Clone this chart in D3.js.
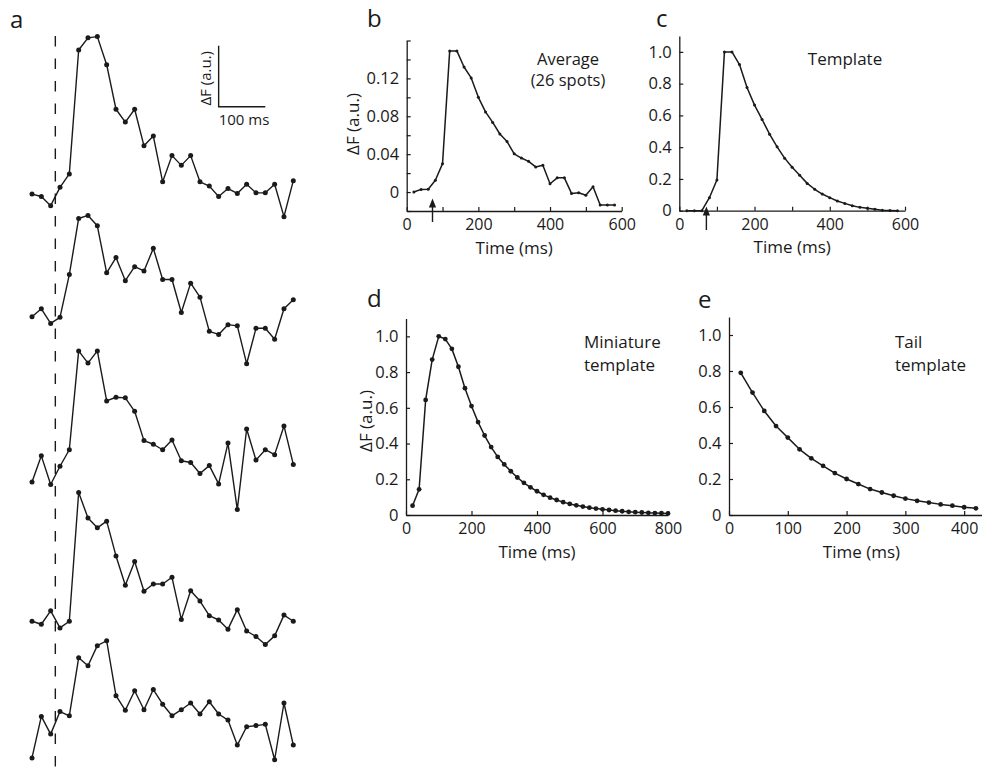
<!DOCTYPE html>
<html><head><meta charset="utf-8">
<script src="https://cdn.jsdelivr.net/npm/d3@7"></script>
<style>
body{margin:0;background:#fff}
svg{display:block;background:#fff}
text{font-family:"Open Sans",sans-serif;fill:#1a1a1a}
</style>
</head><body>
<svg id="chart" width="982" height="775"></svg>
<script>
// ---------- Panel a: five single-spot traces (ΔF, a.u.; scale bar = 1 a.u.) ----------
const timeA = [0,20,40,60,80,100,120,140,160,180,200,220,240,260,280,300,320,340,360,380,400,420,440,460,480,500,520,540,560];
const traceA1 = [0.03,-0.01,-0.16,0.14,0.36,2.39,2.59,2.61,2.15,1.42,1.21,1.42,0.82,0.98,0.23,0.66,0.50,0.66,0.23,0.16,-0.01,0.12,0.04,0.19,0.05,0.05,0.19,-0.34,0.25];
const traceA2 = [0.00,0.13,-0.11,-0.01,0.69,1.61,1.66,1.49,0.72,0.97,0.59,0.82,0.75,1.12,0.61,0.61,0.07,0.55,0.32,-0.24,-0.29,-0.13,-0.15,-0.77,-0.19,-0.19,-0.37,0.13,0.28];
const traceA3 = [-0.16,0.27,-0.20,0.10,0.37,1.99,1.79,1.99,1.17,1.23,1.22,1.00,0.52,0.46,0.37,0.53,0.19,0.16,-0.02,0.11,-0.19,0.48,-0.61,0.71,0.20,0.37,0.29,0.76,0.13];
const traceA4 = [0.00,-0.05,0.17,-0.11,0.00,2.11,1.69,1.53,1.64,1.07,0.59,0.98,0.49,0.61,0.61,0.72,0.03,0.50,0.33,0.09,0.02,-0.13,0.19,-0.16,-0.25,-0.38,-0.24,0.10,0.00];
const traceA5 = [-0.46,0.22,-0.07,0.30,0.23,1.18,1.05,1.38,1.46,0.56,0.32,0.64,0.33,0.66,0.42,0.23,0.33,0.44,0.26,0.46,0.26,0.16,-0.25,0.05,0.07,0.09,-0.49,0.44,-0.25];
const traceOffsets = [9.49,7.51,4.96,2.52,0.74];
const stimulusTime = 50;
const scaleBarTime = [400,500];
const scaleBarValue = [10.95,11.95];

// ---------- Panel b: average of 26 spots ----------
const timeB = [20,40,60,80,100,120,140,160,180,200,220,240,260,280,300,320,340,360,380,400,420,440,460,480,500,520,540,560,580];
const avgB = [0,0.0028,0.003,0.0125,0.030,0.149,0.149,0.132,0.1205,0.100,0.0846,0.0735,0.0613,0.0533,0.0404,0.0359,0.0324,0.0265,0.0282,0.0088,0.015,0.015,-0.0014,-0.0007,-0.0034,0.0056,-0.0136,-0.0136,-0.0136];
const xTicksB = [0,100,200,300,400,500,600];
const xLabelsB = [0,200,400,600];
const yTicksB = [-0.02,0,0.02,0.04,0.06,0.08,0.10,0.12,0.14,0.16];
const yLabelsB = [0,0.04,0.08,0.12];

// ---------- Panel c: template ----------
const timeC = [20,40,60,80,100,120,140,160,180,200,220,240,260,280,300,320,340,360,380,400,420,440,460,480,500,520,540,560,580];
const templateC = [0,0,0,0.082,0.193,1.0,1.0,0.92,0.776,0.665,0.575,0.482,0.402,0.331,0.273,0.223,0.172,0.135,0.105,0.082,0.061,0.046,0.031,0.021,0.015,0.009,0.003,0.001,0];
const xTicksC = [0,100,200,300,400,500,600];
const xLabelsC = [0,200,400,600];
const yTicksC = [0,0.2,0.4,0.6,0.8,1.0];
const stimulusArrowTime = 72;

// ---------- Panel d: miniature template ----------
const timeD = [20,40,60,80,100,120,140,160,180,200,220,240,260,280,300,320,340,360,380,400,420,440,460,480,500,520,540,560,580,600,620,640,660,680,700,720,740,760,780,800];
const miniD = [0.052,0.144,0.644,0.87,1.0,0.985,0.93,0.83,0.71,0.61,0.52,0.445,0.38,0.325,0.283,0.245,0.21,0.18,0.155,0.133,0.113,0.097,0.084,0.072,0.062,0.054,0.047,0.041,0.036,0.032,0.028,0.024,0.021,0.018,0.016,0.014,0.012,0.011,0.010,0.009];
const xTicksD = [0,200,400,600,800];

// ---------- Panel e: tail template ----------
const timeE = [20,40,60,80,100,120,140,160,180,200,220,240,260,280,300,320,340,360,380,400,420];
const tailE = [0.79,0.68,0.578,0.494,0.43,0.365,0.315,0.273,0.233,0.2,0.172,0.144,0.125,0.107,0.091,0.079,0.069,0.059,0.052,0.043,0.037];
const xTicksE = [0,100,200,300,400];
const yTicksDE = [0,0.2,0.4,0.6,0.8,1.0];

const ink = "#1a1a1a";
const svg = d3.select("#chart");

function styleAxis(sel, size){
  sel.attr("font-family", '"Open Sans",sans-serif').attr("font-size", size);
  sel.selectAll("path.domain").attr("stroke", ink).attr("stroke-width", 1.3);
  sel.selectAll(".tick line").attr("stroke", ink).attr("stroke-width", 1.2);
  sel.selectAll(".tick text").attr("fill", ink);
}

function panel(o){
  const x = d3.scaleLinear().domain(o.xDomain).range(o.xRange);
  const y = d3.scaleLinear().domain(o.yDomain).range(o.yRange);
  const g = svg.append("g");
  const has = (arr, d) => arr.some(l => Math.abs(l - d) < 1e-9);
  const xa = d3.axisBottom(x).tickValues(o.xTicks).tickSizeInner(-4).tickSizeOuter(0).tickPadding(8)
    .tickFormat(d => has(o.xLabels, d) ? String(d) : "");
  g.append("g").attr("transform", `translate(0,${o.yRange[0]})`).call(xa).call(styleAxis, 16);
  const ya = d3.axisLeft(y).tickValues(o.yTicks).tickSizeInner(-4).tickSizeOuter(0).tickPadding(7.5)
    .tickFormat(d => has(o.yLabels, d) ? (Math.abs(d) < 1e-9 ? "0" : o.yFmt(d)) : "");
  g.append("g").attr("transform", `translate(${o.xRange[0]},0)`).call(ya).call(styleAxis, 16.5);
  const line = d3.line().x((d,i) => x(o.t[i])).y(d => y(d));
  g.append("path").datum(o.v).attr("d", line).attr("fill","none").attr("stroke", ink).attr("stroke-width", o.lw).attr("stroke-linejoin","round");
  g.selectAll("circle").data(o.v).join("circle").attr("cx",(d,i)=>x(o.t[i])).attr("cy",d=>y(d)).attr("r",o.r).attr("fill",ink);
  // x label
  g.append("text").attr("x", (o.xRange[0]+o.xRange[1])/2 + (o.xLabelShift||0)).attr("y", o.yRange[0] + 42.5)
    .attr("text-anchor","middle").attr("font-size",17).text("Time (ms)");
  if (o.yLabelPos){
    g.append("text").attr("transform", `translate(${o.yLabelPos[0]},${o.yLabelPos[1]}) rotate(-90)`)
      .attr("text-anchor","middle").attr("font-size",17).text("\u0394F (a.u.)");
  }
  return {x, y, g};
}

function arrow(g, xp, tipY){
  const p = d3.path();
  p.moveTo(xp, tipY); p.lineTo(xp-3.6, tipY+9); p.lineTo(xp+3.6, tipY+9); p.closePath();
  g.append("path").attr("d", p.toString()).attr("fill", ink);
  g.append("line").attr("x1",xp).attr("x2",xp).attr("y1",tipY+8).attr("y2",tipY+23.5).attr("stroke",ink).attr("stroke-width",1.4);
}

// ---------- draw panel a ----------
const xA = d3.scaleLinear().domain([0,560]).range([32,293.3]);
const yA = d3.scaleLinear().domain([0,12.7]).range([775,0]);
const gA = svg.append("g");
gA.append("line").attr("x1",xA(stimulusTime)).attr("x2",xA(stimulusTime)).attr("y1",36).attr("y2",775)
  .attr("stroke",ink).attr("stroke-width",1.4).attr("stroke-dasharray","10.5,12");
[traceA1,traceA2,traceA3,traceA4,traceA5].forEach((tr,k) => {
  const off = traceOffsets[k];
  const ln = d3.line().x((d,i)=>xA(timeA[i])).y(d=>yA(d+off));
  gA.append("path").datum(tr).attr("d",ln).attr("fill","none").attr("stroke",ink).attr("stroke-width",1.4).attr("stroke-linejoin","round");
  gA.append("g").selectAll("circle").data(tr).join("circle")
    .attr("cx",(d,i)=>xA(timeA[i])).attr("cy",d=>yA(d+off)).attr("r",2.5).attr("fill",ink);
});
// scale bar
gA.append("path").attr("d", `M${xA(scaleBarTime[0])},${yA(scaleBarValue[1])}V${yA(scaleBarValue[0])}H${xA(scaleBarTime[1])}`)
  .attr("fill","none").attr("stroke",ink).attr("stroke-width",1.4);
gA.append("text").attr("x", xA(scaleBarTime[0])).attr("y", yA(scaleBarValue[0]) + 18).attr("font-size",15).text("100 ms");
gA.append("text").attr("transform", `translate(${xA(scaleBarTime[0]) - 8},${(yA(scaleBarValue[0])+yA(scaleBarValue[1]))/2 + 2}) rotate(-90)`)
  .attr("text-anchor","middle").attr("font-size",15).text("\u0394F (a.u.)");

// ---------- panel b ----------
const pb = panel({xDomain:[0,600], xRange:[406.7,621.7], yDomain:[-0.02,0.16], yRange:[211,40.5],
  xTicks:xTicksB, xLabels:xLabelsB, yTicks:yTicksB, yLabels:yLabelsB, yFmt:d3.format(".2f"),
  t:timeB, v:avgB, r:1.5, lw:1.5, yLabelPos:[359,124]});
arrow(pb.g, pb.x(stimulusArrowTime), 198.5);
pb.g.append("text").attr("x",568).attr("y",64.5).attr("text-anchor","middle").attr("font-size",16.5).text("Average");
pb.g.append("text").attr("x",568).attr("y",86).attr("text-anchor","middle").attr("font-size",16.5).text("(26 spots)");

// ---------- panel c ----------
const pc = panel({xDomain:[0,600], xRange:[679.3,905], yDomain:[0,1.1], yRange:[210.7,36],
  xTicks:xTicksC, xLabels:xLabelsC, yTicks:yTicksC, yLabels:yTicksC, yFmt:d3.format(".1f"),
  t:timeC, v:templateC, r:1.5, lw:1.5});
arrow(pc.g, pc.x(stimulusArrowTime), 206.5);
pc.g.append("text").attr("x",845).attr("y",65).attr("text-anchor","middle").attr("font-size",17).text("Template");

// ---------- panel d ----------
const pd = panel({xDomain:[0,800], xRange:[406,668], yDomain:[0,1.1], yRange:[515,318.5],
  xTicks:xTicksD, xLabels:xTicksD, yTicks:yTicksDE, yLabels:yTicksDE, yFmt:d3.format(".1f"),
  t:timeD, v:miniD, r:2.4, lw:1.5, yLabelPos:[372,421]});
pd.g.append("text").attr("x",584).attr("y",348).attr("font-size",17).text("Miniature");
pd.g.append("text").attr("x",584).attr("y",371).attr("font-size",17).text("template");

// ---------- panel e ----------
const pe = panel({xDomain:[0,430], xRange:[729,981.8], yDomain:[0,1.1], yRange:[515,317],
  xTicks:xTicksE, xLabels:xTicksE, yTicks:yTicksDE, yLabels:yTicksDE, yFmt:d3.format(".1f"),
  t:timeE, v:tailE, r:2.4, lw:1.5, xLabelShift:6});
pe.g.append("text").attr("x",895).attr("y",348).attr("font-size",17).text("Tail");
pe.g.append("text").attr("x",895).attr("y",371).attr("font-size",17).text("template");

// ---------- panel letters ----------
const letters = [["a",10,28],["b",367,27],["c",656,27],["d",367,307],["e",698,308]];
svg.selectAll("text.letter").data(letters).join("text").attr("class","letter")
  .attr("x",d=>d[1]).attr("y",d=>d[2]).attr("font-size",24).text(d=>d[0]);
</script>
</body></html>
